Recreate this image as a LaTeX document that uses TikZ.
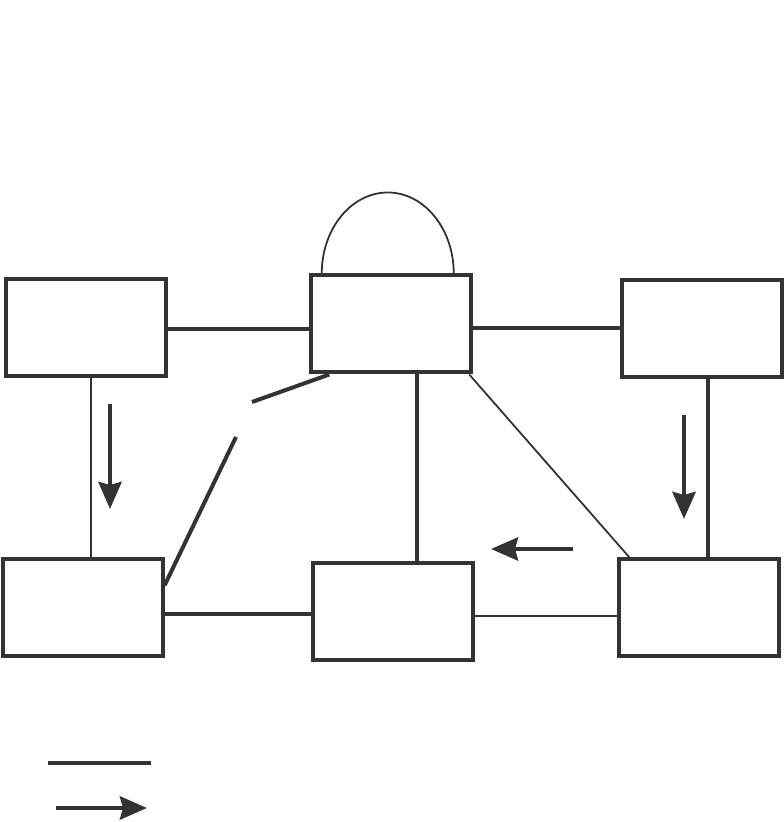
\documentclass[tikz,border=0pt]{standalone}
\usetikzlibrary{arrows.meta}
\definecolor{inkgray}{HTML}{333333}

\begin{document}
\begin{tikzpicture}[
    >={Stealth[length=27pt, width=23pt, inset=3pt]},
    x=1pt,
    y=1pt,
    box/.style={draw=inkgray, line width=4pt, minimum width=160pt, minimum height=97pt},
    heavylink/.style={draw=inkgray, line width=4pt},
    lightlink/.style={draw=inkgray, line width=1.8pt},
    flowarrow/.style={->, draw=inkgray, fill=inkgray, line width=4.5pt}
]

% 1. Canvas
\useasboundingbox (0, 0) rectangle (784, 822);

% 2. Blocks
% Upper row
\node[box] (topleft)  at (85.5, 494.5) {};
\node[box] (topmid)   at (391.25, 498) {};
\node[box] (topright) at (701.5, 493.75) {};
% Lower row
\node[box] (botleft)  at (82.5, 214.5) {};
\node[box] (botmid)   at (392.5, 210) {};
\node[box] (botright) at (698.5, 214) {};

% 3. Heavy links
\draw[heavylink] ([yshift=-2pt]topleft.east) -- ([yshift=-2pt]topleft.east -| topmid.west);
\draw[heavylink] (topright.west -| topmid.east) -- (topright.west);
\draw[heavylink] ([xshift=25.5pt]topmid.south) -- ([xshift=25.5pt]topmid.south |- botmid.north);
\draw[heavylink] ([xshift=6pt]topright.south) -- ([xshift=6pt]topright.south |- botright.north);
\draw[heavylink] ([yshift=-6.5pt]botleft.east) -- ([yshift=-6.5pt]botleft.east -| botmid.west);

% 4. Broken heavy link (gap left open)
\coordinate (gaplow)  at (236, 385);
\coordinate (gaphigh) at (252, 420);
\draw[heavylink] ([yshift=-28.5pt]botleft.north east) -- (gaplow);
\draw[heavylink] (gaphigh) -- ([xshift=20pt]topmid.south west);

% 5. Light links
\draw[lightlink] ([xshift=5.5pt]topleft.south) -- ([xshift=5.5pt]topleft.south |- botleft.north);
\draw[lightlink] ([xshift=-4pt]topmid.south east) -- ([xshift=13pt]botright.north west);
\draw[lightlink] ([yshift=-4pt]botmid.east) -- ([yshift=-4pt]botmid.east -| botright.west);

% 6. Self loop over the upper middle block
\draw[lightlink] ([xshift=12.5pt]topmid.north west)
    arc[start angle=180, end angle=0, x radius=66, y radius=81];

% 7. Flow arrows
\foreach \sx/\sy/\tx/\ty in {110/418/110/313, 684/407/684/303, 573/273/491/273} {
    \draw[flowarrow] (\sx, \sy) -- (\tx, \ty);
}

% 8. Legend
\draw[heavylink, line width=4.5pt] (48, 59) -- (151, 59);
\draw[flowarrow] (56, 14) -- (147, 14);

\end{tikzpicture}
\end{document}
